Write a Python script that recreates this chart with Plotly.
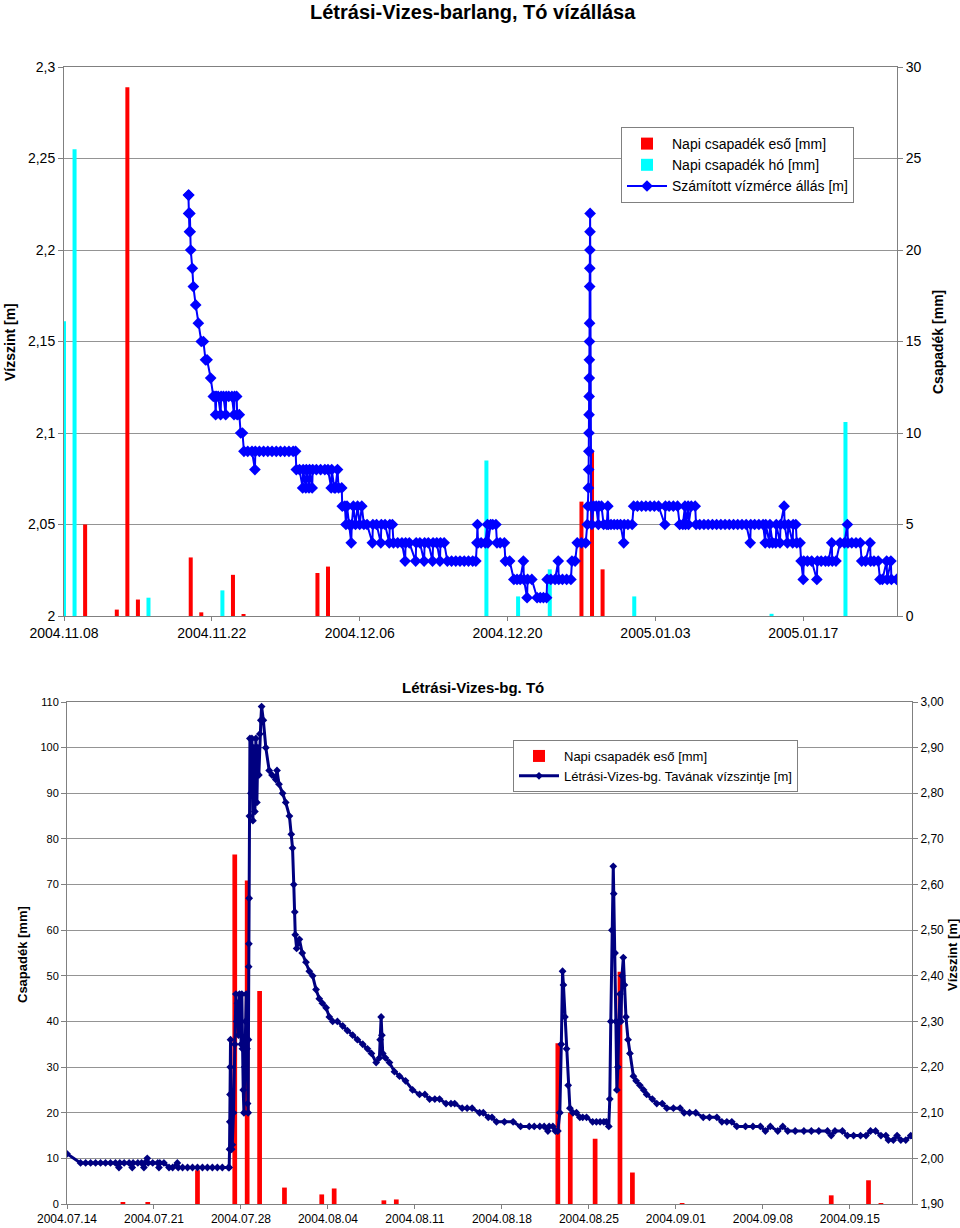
import pandas as pd
import plotly.graph_objects as go

# ================= TOP CHART DATA =================
top_title = "Létrási-Vizes-barlang, Tó vízállása"
top_start = "2004-11-08"
top_end = "2005-01-25 21:07"

rain1_dates = ["2004-11-10", "2004-11-13", "2004-11-14", "2004-11-15", "2004-11-20",
               "2004-11-21", "2004-11-24", "2004-11-25", "2004-12-02", "2004-12-03",
               "2004-12-27", "2004-12-28", "2004-12-29"]
rain1_mm = [5.0, 0.35, 28.9, 0.9, 3.2, 0.2, 2.25, 0.1, 2.35, 2.7, 6.25, 9.0, 2.55]

snow1_dates = ["2004-11-08", "2004-11-09", "2004-11-16", "2004-11-23", "2004-12-18",
               "2004-12-21", "2004-12-24", "2005-01-01", "2005-01-14", "2005-01-21"]
snow1_mm = [16.1, 25.5, 1.0, 1.4, 8.5, 1.07, 2.55, 1.07, 0.12, 10.6]

# level readings: days after top_start, level [m]
lvl1_day = [11.78, 11.80, 11.82, 11.85, 11.88, 11.92, 11.95, 12.00, 12.15, 12.25,
            12.47, 12.72, 13.00, 13.20, 13.40, 13.55, 13.89, 14.14, 14.30, 14.36,
            14.42, 14.60, 14.83, 14.88, 15.10, 15.31, 15.36, 15.60, 15.90, 16.10,
            16.15, 16.35, 16.40, 16.60, 16.73, 16.90, 17.04, 17.40, 17.80, 18.08,
            18.12, 18.50, 18.90, 19.30, 19.70, 20.10, 20.50, 20.90, 21.30, 21.70,
            21.93, 22.00, 22.30, 22.60, 22.65, 22.90, 22.95, 23.20, 23.25, 23.50,
            23.55, 23.90, 24.30, 24.70, 25.00, 25.30, 25.35, 25.60, 25.70, 25.90,
            26.00, 26.30, 26.35, 26.60, 26.70, 26.80, 27.00, 27.20, 27.25, 27.40,
            27.60, 27.80, 28.00, 28.20, 28.40, 28.70, 29.20, 29.25, 29.60, 30.00,
            30.05, 30.40, 30.80, 30.85, 31.10, 31.20, 31.60, 32.00, 32.30, 32.35,
            32.70, 33.30, 33.35, 33.70, 34.10, 34.15, 34.50, 34.90, 34.95, 35.30,
            35.60, 35.65, 36.00, 36.30, 36.70, 37.10, 37.50, 37.90, 38.30, 38.70,
            39.00, 39.10, 39.15, 39.20, 39.50, 39.90, 40.10, 40.15, 40.40, 40.60,
            40.90, 41.00, 41.30, 41.70, 41.80, 42.20, 42.60, 42.90, 43.20, 43.50,
            43.55, 43.85, 43.90, 44.30, 44.80, 45.10, 45.40, 45.70, 45.75, 46.10,
            46.50, 46.80, 46.85, 47.20, 47.60, 48.00, 48.10, 48.40, 48.60, 49.00,
            49.40, 49.55, 49.62, 49.66, 49.68, 49.70, 49.71, 49.72, 49.73, 49.74,
            49.75, 49.76, 49.77, 49.78, 49.79, 49.80, 49.81, 49.82, 49.92, 49.98,
            50.15, 50.40, 50.60, 50.65, 50.90, 51.10, 51.40, 51.50, 51.55, 51.80,
            52.10, 52.40, 52.70, 53.00, 53.05, 53.40, 53.80, 53.94, 54.30, 54.70,
            55.10, 55.50, 55.90, 56.30, 56.90, 56.95, 57.30, 57.70, 58.10, 58.30,
            58.60, 58.80, 58.85, 59.10, 59.14, 59.40, 59.77, 59.85, 60.20, 60.60,
            61.00, 61.40, 61.80, 62.20, 62.60, 63.00, 63.40, 63.80, 64.20, 64.60,
            64.98, 65.03, 65.40, 65.80, 66.20, 66.40, 66.45, 66.80, 66.85, 67.10,
            67.40, 67.45, 67.80, 67.85, 68.19, 68.24, 68.50, 68.60, 69.00, 69.05,
            69.30, 69.39, 69.70, 69.80, 70.00, 70.05, 70.40, 70.80, 71.29, 71.34,
            71.70, 72.10, 72.40, 72.70, 72.75, 73.10, 73.49, 73.90, 74.18, 74.23,
            74.60, 75.00, 75.40, 75.54, 75.90, 76.33, 76.38, 76.70, 77.10, 77.27,
            77.50, 77.90, 77.95, 78.30, 78.35, 78.85]
lvl1_val = [2.23, 2.22, 2.23, 2.22, 2.21, 2.22, 2.21, 2.20, 2.19, 2.18,
            2.17, 2.16, 2.15, 2.15, 2.14, 2.14, 2.13, 2.12, 2.12, 2.11,
            2.12, 2.12, 2.11, 2.12, 2.12, 2.11, 2.12, 2.12, 2.12, 2.11,
            2.12, 2.12, 2.11, 2.11, 2.10, 2.10, 2.09, 2.09, 2.09, 2.08,
            2.09, 2.09, 2.09, 2.09, 2.09, 2.09, 2.09, 2.09, 2.09, 2.09,
            2.09, 2.08, 2.08, 2.07, 2.08, 2.07, 2.08, 2.07, 2.08, 2.07,
            2.08, 2.08, 2.08, 2.08, 2.08, 2.07, 2.08, 2.07, 2.07, 2.08,
            2.07, 2.07, 2.06, 2.06, 2.05, 2.06, 2.05, 2.04, 2.05, 2.06,
            2.05, 2.06, 2.05, 2.06, 2.05, 2.05, 2.04, 2.05, 2.05, 2.04,
            2.05, 2.05, 2.04, 2.05, 2.05, 2.04, 2.04, 2.04, 2.03, 2.04,
            2.04, 2.03, 2.04, 2.04, 2.03, 2.04, 2.04, 2.03, 2.04, 2.04,
            2.03, 2.04, 2.04, 2.03, 2.03, 2.03, 2.03, 2.03, 2.03, 2.03,
            2.03, 2.04, 2.05, 2.04, 2.04, 2.04, 2.05, 2.04, 2.05, 2.05,
            2.05, 2.04, 2.04, 2.04, 2.03, 2.03, 2.02, 2.02, 2.02, 2.03,
            2.02, 2.01, 2.02, 2.02, 2.01, 2.01, 2.01, 2.01, 2.02, 2.02,
            2.02, 2.03, 2.02, 2.02, 2.02, 2.02, 2.03, 2.03, 2.04, 2.04,
            2.04, 2.05, 2.06, 2.07, 2.08, 2.09, 2.10, 2.11, 2.12, 2.13,
            2.14, 2.15, 2.16, 2.18, 2.19, 2.20, 2.21, 2.22, 2.06, 2.05,
            2.06, 2.06, 2.05, 2.06, 2.06, 2.05, 2.05, 2.06, 2.05, 2.05,
            2.05, 2.05, 2.05, 2.04, 2.05, 2.05, 2.05, 2.06, 2.06, 2.06,
            2.06, 2.06, 2.06, 2.06, 2.05, 2.06, 2.06, 2.06, 2.06, 2.05,
            2.05, 2.06, 2.05, 2.06, 2.05, 2.06, 2.06, 2.05, 2.05, 2.05,
            2.05, 2.05, 2.05, 2.05, 2.05, 2.05, 2.05, 2.05, 2.05, 2.05,
            2.04, 2.05, 2.05, 2.05, 2.05, 2.04, 2.05, 2.04, 2.05, 2.04,
            2.04, 2.05, 2.04, 2.05, 2.06, 2.05, 2.04, 2.05, 2.04, 2.05,
            2.05, 2.04, 2.04, 2.03, 2.02, 2.03, 2.03, 2.03, 2.02, 2.03,
            2.03, 2.03, 2.03, 2.04, 2.03, 2.03, 2.04, 2.04, 2.05, 2.04,
            2.04, 2.04, 2.04, 2.03, 2.03, 2.04, 2.03, 2.03, 2.03, 2.02,
            2.02, 2.03, 2.02, 2.03, 2.02, 2.02]

top_lvl_ticks = [2.0, 2.05, 2.1, 2.15, 2.2, 2.25, 2.3]
top_lvl_text = ["2", "2,05", "2,1", "2,15", "2,2", "2,25", "2,3"]

# ================= BOTTOM CHART DATA =================
bot_title = "Létrási-Vizes-bg. Tó"
bot_start = "2004-07-14"
bot_end = "2004-09-20"

rain2_dates = ["2004-07-18", "2004-07-20", "2004-07-24", "2004-07-27", "2004-07-28",
               "2004-07-29", "2004-07-31", "2004-08-03", "2004-08-04", "2004-08-08",
               "2004-08-09", "2004-08-22", "2004-08-23", "2004-08-25", "2004-08-27",
               "2004-08-28", "2004-09-01", "2004-09-13", "2004-09-16", "2004-09-17"]
rain2_mm = [0.4, 0.4, 7.4, 76.6, 70.9, 46.7, 3.6, 2.1, 3.4, 0.8,
            1.0, 35.2, 20.0, 14.3, 50.9, 6.9, 0.2, 1.9, 5.2, 0.1]

lvl2_day = [0.00, 1.09, 1.50, 1.90, 2.30, 2.70, 3.10, 3.50, 3.90, 4.18,
            4.25, 4.60, 5.00, 5.25, 5.32, 5.70, 6.00, 6.19, 6.26, 6.46,
            6.53, 6.90, 7.30, 7.40, 7.47, 7.80, 8.21, 8.50, 8.88, 8.95,
            9.30, 9.70, 10.10, 10.50, 10.90, 11.30, 11.70, 12.10, 12.50, 13.00,
            13.05, 13.08, 13.10, 13.12, 13.14, 13.16, 13.20, 13.25, 13.30, 13.40,
            13.50, 13.59, 13.65, 13.72, 13.80, 13.88, 13.95, 14.02, 14.07, 14.12,
            14.18, 14.24, 14.30, 14.36, 14.42, 14.48, 14.53, 14.58, 14.60, 14.62,
            14.64, 14.66, 14.68, 14.72, 14.80, 14.88, 14.96, 15.04, 15.12, 15.20,
            15.28, 15.36, 15.44, 15.52, 15.60, 15.66, 15.80, 16.00, 16.27, 16.50,
            16.80, 16.90, 17.06, 17.35, 17.60, 17.90, 18.05, 18.15, 18.25, 18.33,
            18.37, 18.48, 18.70, 18.93, 19.23, 19.50, 19.77, 20.04, 20.30, 20.55,
            20.85, 21.11, 21.38, 21.76, 22.19, 22.56, 22.99, 23.37, 23.80, 24.18,
            24.50, 24.88, 25.14, 25.20, 25.28, 25.34, 25.41, 25.63, 25.95, 26.35,
            26.76, 27.24, 27.81, 28.37, 28.80, 29.18, 29.60, 29.98, 30.50, 30.90,
            31.20, 31.80, 32.20, 32.60, 33.20, 33.50, 33.90, 34.20, 34.56, 35.20,
            35.90, 36.50, 37.20, 37.60, 38.05, 38.40, 38.70, 38.80, 39.10, 39.30,
            39.50, 39.66, 39.78, 39.88, 39.95, 40.07, 40.20, 40.33, 40.47, 40.71,
            41.00, 41.27, 41.50, 41.81, 42.30, 42.60, 42.90, 43.20, 43.40, 43.60,
            43.68, 43.76, 43.85, 43.96, 44.00, 44.10, 44.17, 44.25, 44.33, 44.42,
            44.50, 44.58, 44.66, 44.77, 44.86, 44.98, 45.15, 45.30, 45.58, 45.80,
            46.10, 46.40, 46.65, 47.10, 47.46, 47.90, 48.27, 48.80, 49.34, 49.66,
            50.10, 50.60, 51.20, 51.70, 52.30, 52.70, 53.10, 53.50, 53.90, 54.60,
            55.20, 55.80, 56.20, 56.60, 57.20, 57.60, 58.00, 58.60, 59.30, 59.90,
            60.50, 61.20, 61.50, 61.80, 62.40, 62.80, 63.30, 63.86, 64.30, 64.66,
            65.07, 65.50, 65.90, 66.10, 66.50, 66.80, 67.10, 67.50, 67.90]
lvl2_val = [2.01, 1.99, 1.99, 1.99, 1.99, 1.99, 1.99, 1.99, 1.99, 1.98,
            1.99, 1.99, 1.99, 1.98, 1.99, 1.99, 1.99, 1.98, 1.99, 2.00,
            1.99, 1.99, 1.99, 1.98, 1.99, 1.99, 1.98, 1.98, 1.99, 1.98,
            1.98, 1.98, 1.98, 1.98, 1.98, 1.98, 1.98, 1.98, 1.98, 1.98,
            1.98, 2.02, 2.08, 2.14, 2.20, 2.26, 2.14, 2.02, 2.03, 2.10,
            2.25, 2.36, 2.30, 2.34, 2.27, 2.36, 2.30, 2.25, 2.36, 2.24,
            2.15, 2.10, 2.20, 2.30, 2.36, 2.24, 2.12, 2.10, 2.26, 2.42,
            2.47, 2.57, 2.75, 2.92, 2.80, 2.92, 2.74, 2.90, 2.76, 2.92,
            2.78, 2.90, 2.84, 2.93, 2.96, 2.99, 2.96, 2.90, 2.85, 2.84,
            2.83, 2.85, 2.82, 2.80, 2.78, 2.75, 2.71, 2.68, 2.60, 2.54,
            2.49, 2.46, 2.48, 2.45, 2.43, 2.41, 2.40, 2.37, 2.35, 2.34,
            2.33, 2.31, 2.30, 2.30, 2.29, 2.28, 2.27, 2.26, 2.25, 2.24,
            2.23, 2.21, 2.22, 2.26, 2.31, 2.27, 2.23, 2.22, 2.21, 2.19,
            2.18, 2.17, 2.15, 2.14, 2.14, 2.13, 2.13, 2.13, 2.12, 2.12,
            2.12, 2.11, 2.11, 2.11, 2.10, 2.10, 2.09, 2.09, 2.08, 2.08,
            2.08, 2.07, 2.07, 2.07, 2.07, 2.07, 2.06, 2.07, 2.07, 2.06,
            2.06, 2.10, 2.25, 2.41, 2.38, 2.31, 2.24, 2.16, 2.11, 2.10,
            2.10, 2.09, 2.09, 2.09, 2.08, 2.08, 2.08, 2.08, 2.08, 2.07,
            2.13, 2.30, 2.50, 2.64, 2.58, 2.45, 2.30, 2.15, 2.20, 2.30,
            2.36, 2.30, 2.40, 2.44, 2.38, 2.31, 2.26, 2.23, 2.18, 2.17,
            2.16, 2.15, 2.14, 2.13, 2.12, 2.12, 2.11, 2.11, 2.11, 2.10,
            2.10, 2.10, 2.09, 2.09, 2.09, 2.08, 2.08, 2.08, 2.07, 2.07,
            2.07, 2.07, 2.06, 2.07, 2.06, 2.07, 2.06, 2.06, 2.06, 2.06,
            2.06, 2.06, 2.05, 2.06, 2.06, 2.05, 2.05, 2.05, 2.05, 2.06,
            2.06, 2.05, 2.05, 2.04, 2.04, 2.05, 2.04, 2.04, 2.05]

bot_lvl_ticks = [1.9, 2.0, 2.1, 2.2, 2.3, 2.4, 2.5, 2.6, 2.7, 2.8, 2.9, 3.0]
bot_lvl_text = ["1,90", "2,00", "2,10", "2,20", "2,30", "2,40", "2,50",
                "2,60", "2,70", "2,80", "2,90", "3,00"]

# ================= FIGURE =================
DAY_MS = 86400000
BAR_W = 0.38 * DAY_MS
FONT = "Liberation Sans, Arial, sans-serif"
GRID = "#949494"
AXC = "#808080"

W = 960.0
H = 1228.0


def px(x):
    return x / W


def py(y):
    return 1 - y / H


t1 = pd.Timestamp(top_start) + pd.to_timedelta(lvl1_day, unit="D")
t2 = pd.Timestamp(bot_start) + pd.to_timedelta(lvl2_day, unit="D")

fig = go.Figure()
fig.add_trace(go.Bar(x=pd.to_datetime(rain1_dates), y=rain1_mm, width=BAR_W,
                     name="Napi csapadék eső [mm]", marker=dict(color="#FF0000", line=dict(width=0)),
                     xaxis="x", yaxis="y", legend="legend", legendgroup="a"))
fig.add_trace(go.Bar(x=pd.to_datetime(snow1_dates), y=snow1_mm, width=BAR_W,
                     name="Napi csapadék hó [mm]", marker=dict(color="#00FFFF", line=dict(width=0)),
                     xaxis="x", yaxis="y", legend="legend", legendgroup="b"))
fig.add_trace(go.Scatter(x=t1, y=lvl1_val, mode="lines+markers",
                         name="Számított vízmérce állás [m]",
                         line=dict(color="#0000FF", width=2),
                         marker=dict(symbol="diamond", size=9, color="#0000FF"),
                         xaxis="x", yaxis="y2", legend="legend", legendgroup="c"))

fig.add_trace(go.Bar(x=pd.to_datetime(rain2_dates) + pd.Timedelta(hours=12), y=rain2_mm,
                     width=BAR_W, name="Napi csapadék eső [mm]",
                     marker=dict(color="#FF0000", line=dict(width=0)),
                     xaxis="x2", yaxis="y3", legend="legend2", legendgroup="d"))
fig.add_trace(go.Scatter(x=t2, y=lvl2_val, mode="lines+markers",
                         name="Létrási-Vizes-bg. Tavának vízszintje [m]",
                         line=dict(color="#000080", width=3),
                         marker=dict(symbol="diamond", size=6, color="#000080"),
                         xaxis="x2", yaxis="y4", legend="legend2", legendgroup="e"))


def label(text, x, y, size, angle=0):
    return dict(text="<b>" + text + "</b>", x=px(x), y=py(y), xref="paper", yref="paper",
                xanchor="center", yanchor="middle", textangle=angle,
                showarrow=False, font=dict(size=size))


fig.update_layout(
    width=int(W), height=int(H), margin=dict(l=0, r=0, t=0, b=0, autoexpand=False),
    paper_bgcolor="white", plot_bgcolor="white",
    font=dict(family=FONT, color="black"),
    barmode="overlay", showlegend=True,
    xaxis=dict(domain=[px(64), px(897)], anchor="y", type="date", automargin=False,
               range=[top_start, top_end], tick0=top_start, dtick=14 * DAY_MS,
               tickformat="%Y.%m.%d", ticks="outside", ticklen=4, tickcolor=AXC,
               showline=True, linecolor=AXC, mirror=True, showgrid=False,
               tickfont=dict(size=14)),
    yaxis=dict(domain=[py(616), py(67)], anchor="x", side="right", automargin=False,
               range=[0, 30], dtick=5, showgrid=True, gridcolor=GRID,
               showline=True, linecolor=AXC, ticks="outside", ticklen=5,
               tickcolor=AXC, tickfont=dict(size=14), zeroline=False),
    yaxis2=dict(overlaying="y", anchor="x", side="left", range=[2, 2.3], automargin=False,
                tickvals=top_lvl_ticks, ticktext=top_lvl_text, showgrid=False,
                showline=True, linecolor=AXC, ticks="outside", ticklen=5,
                tickcolor=AXC, tickfont=dict(size=14), zeroline=False),
    xaxis2=dict(domain=[px(67), px(912)], anchor="y3", type="date", automargin=False,
                range=[bot_start, bot_end], tick0=bot_start, dtick=7 * DAY_MS,
                tickformat="%Y.%m.%d", ticks="outside", ticklen=4, tickcolor=AXC,
                showline=True, linecolor=AXC, mirror=True, showgrid=False,
                tickfont=dict(size=12)),
    yaxis3=dict(domain=[py(1204), py(702)], anchor="x2", side="left", automargin=False,
                range=[0, 110], dtick=10, showgrid=True, gridcolor=GRID,
                showline=True, linecolor=AXC, ticks="outside", ticklen=5,
                tickcolor=AXC, tickfont=dict(size=11), zeroline=False),
    yaxis4=dict(overlaying="y3", anchor="x2", side="right", range=[1.9, 3.0], automargin=False,
                tickvals=bot_lvl_ticks, ticktext=bot_lvl_text, showgrid=False,
                showline=True, linecolor=AXC, ticks="outside", ticklen=5,
                tickcolor=AXC, tickfont=dict(size=12), zeroline=False),
    legend=dict(x=px(621), y=py(127), xanchor="left", yanchor="top",
                bgcolor="white", bordercolor=AXC, borderwidth=1,
                font=dict(size=14), itemwidth=40, tracegroupgap=3,
                traceorder="normal"),
    legend2=dict(x=px(513), y=py(740), xanchor="left", yanchor="top",
                 bgcolor="white", bordercolor=AXC, borderwidth=1,
                 font=dict(size=13), itemwidth=40, tracegroupgap=11,
                 traceorder="normal"),
    annotations=[
        label(top_title, 473, 12, 20),
        label(bot_title, 473, 687, 15),
        label("Vízszint [m]", 10, 342, 14, -90),
        label("Csapadék [mm]", 938, 342, 14, -90),
        label("Csapadék [mm]", 22, 955, 13, -90),
        label("Vízszint [m]", 952, 955, 13, -90),
    ],
)

# remove the browser's default 8px page margin so the 960x1228 figure fills the window
fig.write_html("out.html",
               config={"displayModeBar": False},
               post_script="document.body.style.margin='0px';document.body.style.overflow='hidden';")
